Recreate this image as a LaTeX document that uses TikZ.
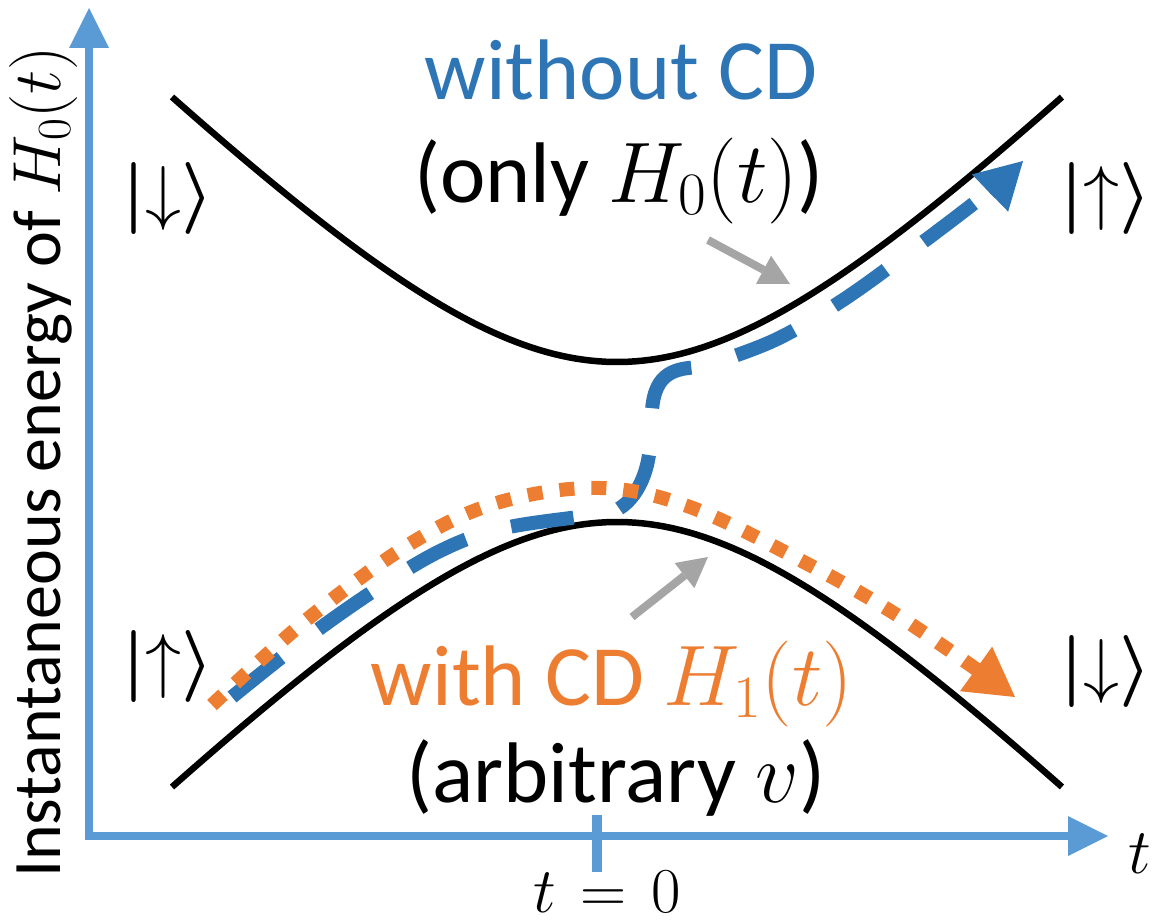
\RequirePackage{fix-cm}
\documentclass[tikz,border=0pt]{standalone}
\usepackage[no-math]{fontspec}
\setmainfont{Carlito}
\usetikzlibrary{arrows.meta}
\definecolor{axisblue}{HTML}{5B9BD5}
\definecolor{cdblue}{HTML}{2E75B6}
\definecolor{cdorange}{HTML}{ED7D31}
\definecolor{cdgray}{HTML}{A5A5A5}
\newcommand{\ketdown}{{\boldmath$|$}$\downarrow${\boldmath$\rangle$}}
\newcommand{\ketup}{{\boldmath$|$}$\uparrow${\boldmath$\rangle$}}
\tikzset{
  axisline/.style={draw=axisblue, line width=8pt, line join=miter},
  energycurve/.style={draw=black, line width=6.5pt},
  bluepath/.style={draw=cdblue, line width=14pt, dash pattern=on 63pt off 47pt,
    -{Triangle[length=46pt,width=52pt,line width=0pt]}},
  orangepath/.style={draw=cdorange, line width=14pt, dash pattern=on 15pt off 17pt,
    -{Triangle[length=48pt,width=55pt,line width=0pt]}},
  grayarrow/.style={draw=cdgray, line width=8pt, -{Triangle[length=30pt,width=32pt,line width=0pt]}},
  bigtext/.style={inner sep=0pt, font=\fontsize{86}{100}\selectfont},
  kettext/.style={inner sep=0pt, font=\fontsize{72}{86}\selectfont},
  axislabel/.style={inner sep=0pt, font=\fontsize{68}{80}\selectfont},
  mathlabel/.style={inner sep=0pt, font=\fontsize{64}{76}\selectfont},
}
\begin{document}
\begin{tikzpicture}[x=1pt,y=-1pt]
\useasboundingbox (0,0) rectangle (1153,923);
% axes
\coordinate (O) at (89,836);
\coordinate (ytip) at (89,8);
\coordinate (xtip) at (1108,836);
\draw[axisline, {Triangle[length=40pt,width=40pt,line width=0pt]}-{Triangle[length=40pt,width=40pt,line width=0pt]}] (ytip) -- (O) -- (xtip);
\coordinate (tickt) at (597,815);
\coordinate (tickb) at (597,872);
\draw[draw=axisblue, line width=10pt] (tickt) -- (tickb);
% energy curves
\draw[energycurve] plot[domain=-4.45:4.45, samples=120] ({617+100*\x},{612-100*sqrt(1.0237*\x*\x+6.25)});
\draw[energycurve] plot[domain=-4.45:4.45, samples=120] ({617+100*\x},{272+100*sqrt(1.0237*\x*\x+6.25)});
% without CD path
\coordinate (bstart) at (232,697);
\coordinate (bend) at (1023,161);
\draw[bluepath] plot[smooth, tension=0.6] coordinates {(bstart) (300,643) (372,592) (440,551) (500,529) (578,517) (605,514)}
  .. controls (632,509) and (648,478) .. (650,445) -- (652,410)
  .. controls (655,372) and (675,368) .. (702,367)
  -- plot[smooth, tension=0.6] coordinates {(702,367) (775,340) (843,300) (915,248) (987,193) (bend)};
% with CD path
\coordinate (ostart) at (212,705);
\coordinate (oend) at (1015,697);
\draw[orangepath] plot[smooth, tension=0.6] coordinates {(ostart) (310,617) (413,542) (500,502) (600,488) (690,507) (800,560) (900,617) (oend)};
% texts
\node[bigtext, anchor=base, text=cdblue] (wo) at (621,100) {without CD};
\node[bigtext, anchor=base] (only) at (619,202) {(only $H_0(t)$)};
\node[bigtext, anchor=base, text=cdorange] (with) at (612,705) {with CD $H_1(t)$};
\node[bigtext, anchor=base] (arb) at (616,802) {(arbitrary $v$)};
\node[kettext, anchor=west] (k1) at (122,198) {\ketdown};
\node[kettext, anchor=west] (k2) at (1060,198) {\ketup};
\node[kettext, anchor=west] (k3) at (122,666) {\ketup};
\node[kettext, anchor=west] (k4) at (1060,671) {\ketdown};
\node[axislabel, anchor=base, rotate=90] (ylab) at (60,462) {Instantaneous energy of $H_0(t)$};
\node[mathlabel, anchor=base] (t0) at (607,912) {$t\mkern2mu=\mkern2mu0$};
\node[mathlabel, anchor=base west] (tlab) at (1128,873) {$t$};
% gray pointers
\coordinate (g1s) at (708,240);
\coordinate (g1e) at (790,284);
\coordinate (g2s) at (632,617);
\coordinate (g2e) at (708,557);
\draw[grayarrow] (g1s) -- (g1e);
\draw[grayarrow] (g2s) -- (g2e);
\end{tikzpicture}
\end{document}
